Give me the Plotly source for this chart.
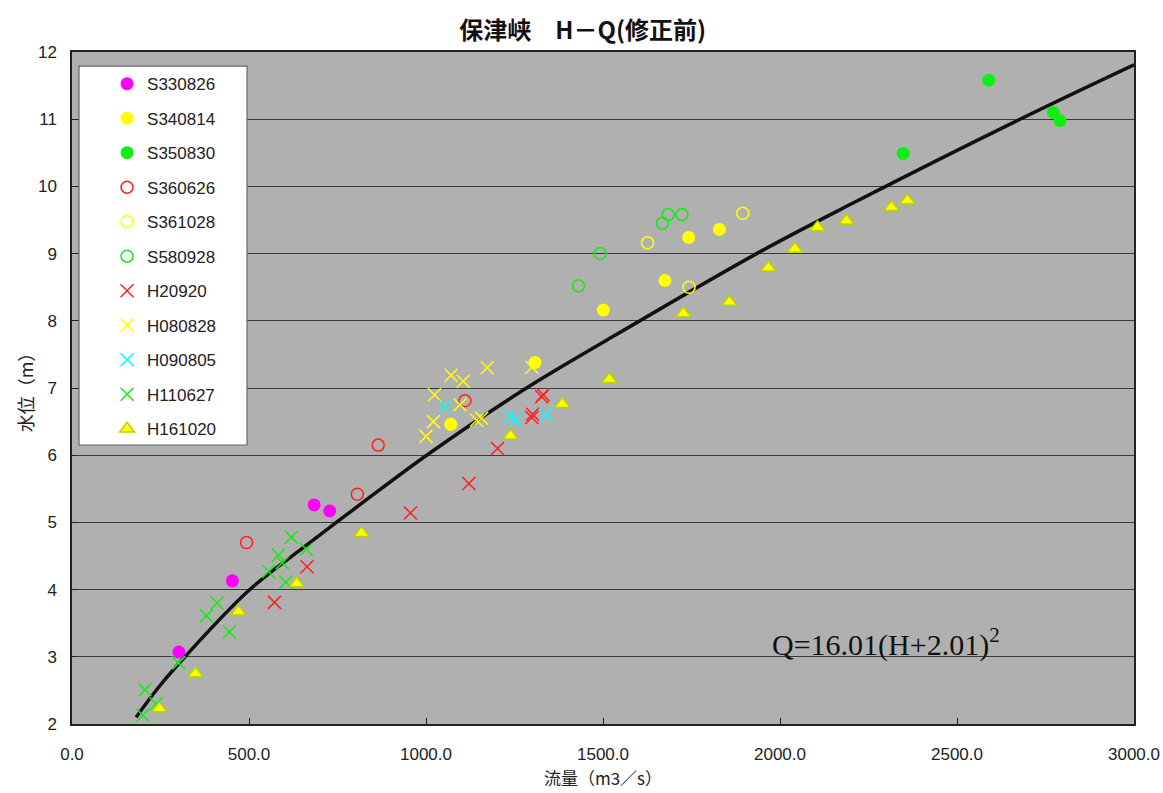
import plotly.graph_objects as go

# ---- data (Q: 流量 m3/s, H: 水位 m) ----
S330826_Q = [302, 453, 684, 728]
S330826_H = [3.07, 4.13, 5.26, 5.17]

S340814_Q = [1070, 1308, 1501, 1675, 1742, 1829]
S340814_H = [6.46, 7.38, 8.16, 8.60, 9.24, 9.36]

S350830_Q = [2348, 2590, 2772, 2791]
S350830_H = [10.49, 11.58, 11.10, 10.98]

S360626_Q = [493, 806, 865, 1110]
S360626_H = [4.70, 5.42, 6.15, 6.81]

S361028_Q = [1626, 1743, 1895]
S361028_H = [9.16, 8.50, 9.60]

S580928_Q = [1431, 1492, 1668, 1684, 1723]
S580928_H = [8.52, 9.00, 9.45, 9.58, 9.58]

H20920_Q = [572, 664, 956, 1121, 1202, 1299, 1301, 1327, 1331]
H20920_H = [3.81, 4.34, 5.14, 5.58, 6.10, 6.56, 6.61, 6.87, 6.90]

H080828_Q = [1000, 1021, 1024, 1071, 1096, 1105, 1143, 1157, 1173, 1299]
H080828_H = [6.28, 6.50, 6.90, 7.19, 6.75, 7.10, 6.52, 6.55, 7.30, 7.31]

H090805_Q = [1054, 1237, 1253, 1339]
H090805_H = [6.72, 6.58, 6.52, 6.60]

H110627_Q = [200, 206, 237, 301, 380, 410, 444, 555, 583, 594, 604, 620, 662]
H110627_H = [2.13, 2.51, 2.30, 2.91, 3.61, 3.80, 3.37, 4.27, 4.51, 4.40, 4.11, 4.78, 4.60]

H161020_Q = [247, 349, 470, 635, 818, 1239, 1385, 1518, 1727, 1857, 1967, 2042, 2106, 2188, 2315, 2360]
H161020_H = [2.23, 2.75, 3.67, 4.09, 4.84, 6.29, 6.76, 7.13, 8.11, 8.28, 8.79, 9.07, 9.39, 9.49, 9.69, 9.79]

# rating curve
CURVE_Q = [181, 239, 302, 500, 670, 830, 1002, 1275, 1510, 1934, 2198, 2678, 3000]
CURVE_H = [2.10, 2.51, 2.90, 3.99, 4.69, 5.33, 6.00, 6.97, 7.71, 9.00, 9.73, 11.00, 11.81]

X_TICKS = [0, 500, 1000, 1500, 2000, 2500, 3000]
Y_TICKS = [2, 3, 4, 5, 6, 7, 8, 9, 10, 11, 12]

TITLE = "保津峡　H－Q(修正前)"
X_TITLE = "流量（m3／s）"
Y_TITLE = "水位（m）"
FORMULA = "Q=16.01(H+2.01)<sup>2</sup>"

FONT = "Liberation Sans, Arial, sans-serif"
CJK = "Noto Sans CJK JP, Liberation Sans, sans-serif"

fig = go.Figure()

series = [
    ("S330826", S330826_Q, S330826_H, dict(symbol="circle", size=13, color="#ff00ff")),
    ("S340814", S340814_Q, S340814_H, dict(symbol="circle", size=13, color="#ffff00")),
    ("S350830", S350830_Q, S350830_H, dict(symbol="circle", size=13, color="#11ee11")),
    ("S360626", S360626_Q, S360626_H, dict(symbol="circle-open", size=12, color="#ff2020", line=dict(width=1.5, color="#ff2020"))),
    ("S361028", S361028_Q, S361028_H, dict(symbol="circle-open", size=12, color="#ffff00", line=dict(width=1.5, color="#ffff00"))),
    ("S580928", S580928_Q, S580928_H, dict(symbol="circle-open", size=12, color="#11ee11", line=dict(width=1.5, color="#11ee11"))),
    ("H20920", H20920_Q, H20920_H, dict(symbol="x-thin-open", size=13, color="#ff2020", line=dict(width=1.5, color="#ff2020"))),
    ("H080828", H080828_Q, H080828_H, dict(symbol="x-thin-open", size=13, color="#ffff00", line=dict(width=1.5, color="#ffff00"))),
    ("H090805", H090805_Q, H090805_H, dict(symbol="x-thin-open", size=13, color="#00ffff", line=dict(width=1.5, color="#00ffff"))),
    ("H110627", H110627_Q, H110627_H, dict(symbol="x-thin-open", size=13, color="#11ee11", line=dict(width=1.5, color="#11ee11"))),
    ("H161020", H161020_Q, H161020_H, dict(symbol="triangle-up", size=13, color="#ffff00", line=dict(width=1.5, color="#b8d400"))),
]

fig.add_trace(go.Scatter(x=CURVE_Q, y=CURVE_H, mode="lines", line=dict(color="#111111", width=3.5, shape="spline"),
                         showlegend=False, hoverinfo="skip"))

for name, q, h, mk in series:
    fig.add_trace(go.Scatter(x=q, y=h, mode="markers", name=name, marker=mk, legendgroup=name))

fig.update_layout(
    width=1163, height=793,
    margin=dict(l=72, r=29, t=52, b=69, autoexpand=False),
    paper_bgcolor="white",
    plot_bgcolor="#b0b0b0",
    title=dict(text=TITLE, x=0.501, xanchor="center", xref="container", y=0.962, yanchor="middle",
               font=dict(family=CJK, size=24, color="#111111", weight="bold")),
    font=dict(family=FONT, size=17, color="#222222"),
    showlegend=True,
    legend=dict(x=0.033, y=0.979, xanchor="left", yanchor="top", bgcolor="rgba(0,0,0,0)",
                borderwidth=0, tracegroupgap=9.4, font=dict(family=FONT, size=17, color="#222222"),
                itemwidth=30),
    shapes=[dict(type="rect", xref="paper", yref="paper", x0=0.0066, x1=0.1648, y0=0.4152, y1=0.979,
                 fillcolor="white", line=dict(color="#666666", width=1.2), layer="above")],
    annotations=[dict(text=FORMULA, x=2300, y=3.22, xref="x", yref="y", showarrow=False,
                      font=dict(family="Liberation Serif, Times New Roman, serif", size=30, color="#111111"))],
)

fig.update_xaxes(range=[0, 3000], tickvals=X_TICKS, tickformat=".1f", showgrid=False, automargin=False,
                 ticks="inside", ticklen=6, tickcolor="#222", showline=True, linecolor="#222", linewidth=1.5,
                 mirror=True, zeroline=False, ticklabelstandoff=14,
                 title=dict(text=X_TITLE, font=dict(family=CJK, size=17, color="#222"), standoff=10))
fig.update_yaxes(range=[2, 12], tickvals=Y_TICKS, showgrid=True, gridcolor="#3a3a3a", gridwidth=1, automargin=False,
                 ticks="inside", ticklen=6, tickcolor="#222", showline=True, linecolor="#222", linewidth=1.5,
                 mirror=True, zeroline=False, ticklabelstandoff=10,
                 title=dict(text=Y_TITLE, font=dict(family=CJK, size=18, color="#222"), standoff=0))

fig.write_html("out.html")
